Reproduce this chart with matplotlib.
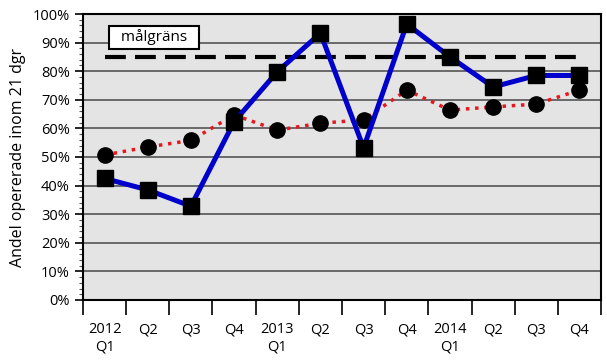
import matplotlib.pyplot as plt
import numpy as np
from matplotlib.ticker import MultipleLocator, FuncFormatter

# data
quarters = ['2012\nQ1', 'Q2', 'Q3', 'Q4', '2013\nQ1', 'Q2', 'Q3', 'Q4',
            '2014\nQ1', 'Q2', 'Q3', 'Q4']
blue_vals = [42.5, 38.5, 32.8, 62.3, 79.8, 93.3, 53.2, 96.5, 85.0, 74.5, 78.5, 78.5]
red_vals = [50.7, 53.5, 55.8, 64.7, 59.4, 61.8, 63.0, 73.4, 66.4, 67.5, 68.5, 73.4]
goal = 85
goal_label = 'målgräns'

plt.rcParams['font.family'] = ['Open Sans', 'DejaVu Sans']

fig = plt.figure(figsize=(6.07, 3.6), dpi=100)
ax = fig.add_axes([0.1367, 0.1667, 0.8535, 0.7944])
ax.set_facecolor('#e4e4e4')

x = np.arange(len(quarters))
ax.set_xlim(-0.5, len(quarters) - 0.5)
ax.set_ylim(0, 100)

#grid
ax.yaxis.set_major_locator(MultipleLocator(10))
ax.yaxis.set_minor_locator(MultipleLocator(2))
ax.grid(axis='y', which='major', color='#555555', linewidth=1.2, zorder=0)

#goal line
ax.plot([x[0], x[-1]], [goal, goal], color='black', linestyle=(0, (5, 2.2)), linewidth=3, zorder=2)

ax.plot(x, red_vals, color='#e8161e', linestyle=':', linewidth=2.5, marker='o',
        markersize=11, markerfacecolor='black', markeredgecolor='black', zorder=3)
ax.plot(x, blue_vals, color='#0000cc', linewidth=3.6, marker='s',
        markersize=11, markerfacecolor='black', markeredgecolor='black', zorder=4)

ax.text(1.15, 91.8, '  ' + goal_label + '  ', fontsize=11, ha='center', va='center', zorder=5,
        bbox=dict(boxstyle='square,pad=0.25', facecolor='white', edgecolor='black', linewidth=1.5))

ax.yaxis.set_major_formatter(FuncFormatter(lambda v, p: '%d%%' % v))
ax.set_ylabel('Andel opererade inom 21 dgr', fontsize=11.5, labelpad=5)

ax.set_xticks(np.arange(len(quarters) + 1) - 0.5)
ax.set_xticklabels([])
ax.set_xticks(x, minor=True)
ax.set_xticklabels(quarters, minor=True, fontsize=10.5, va='top')
ax.tick_params(axis='x', which='major', length=11, width=1.2, direction='out', color='black')
ax.tick_params(axis='x', which='minor', length=0, pad=16)
ax.tick_params(axis='y', which='major', length=6, width=1.2, labelsize=10.5)
ax.tick_params(axis='y', which='minor', length=3, width=0.8, color='#555555')

for s in ax.spines.values():
    s.set_linewidth(1.5)
    s.set_color('black')

plt.savefig('out.png', dpi=100)
